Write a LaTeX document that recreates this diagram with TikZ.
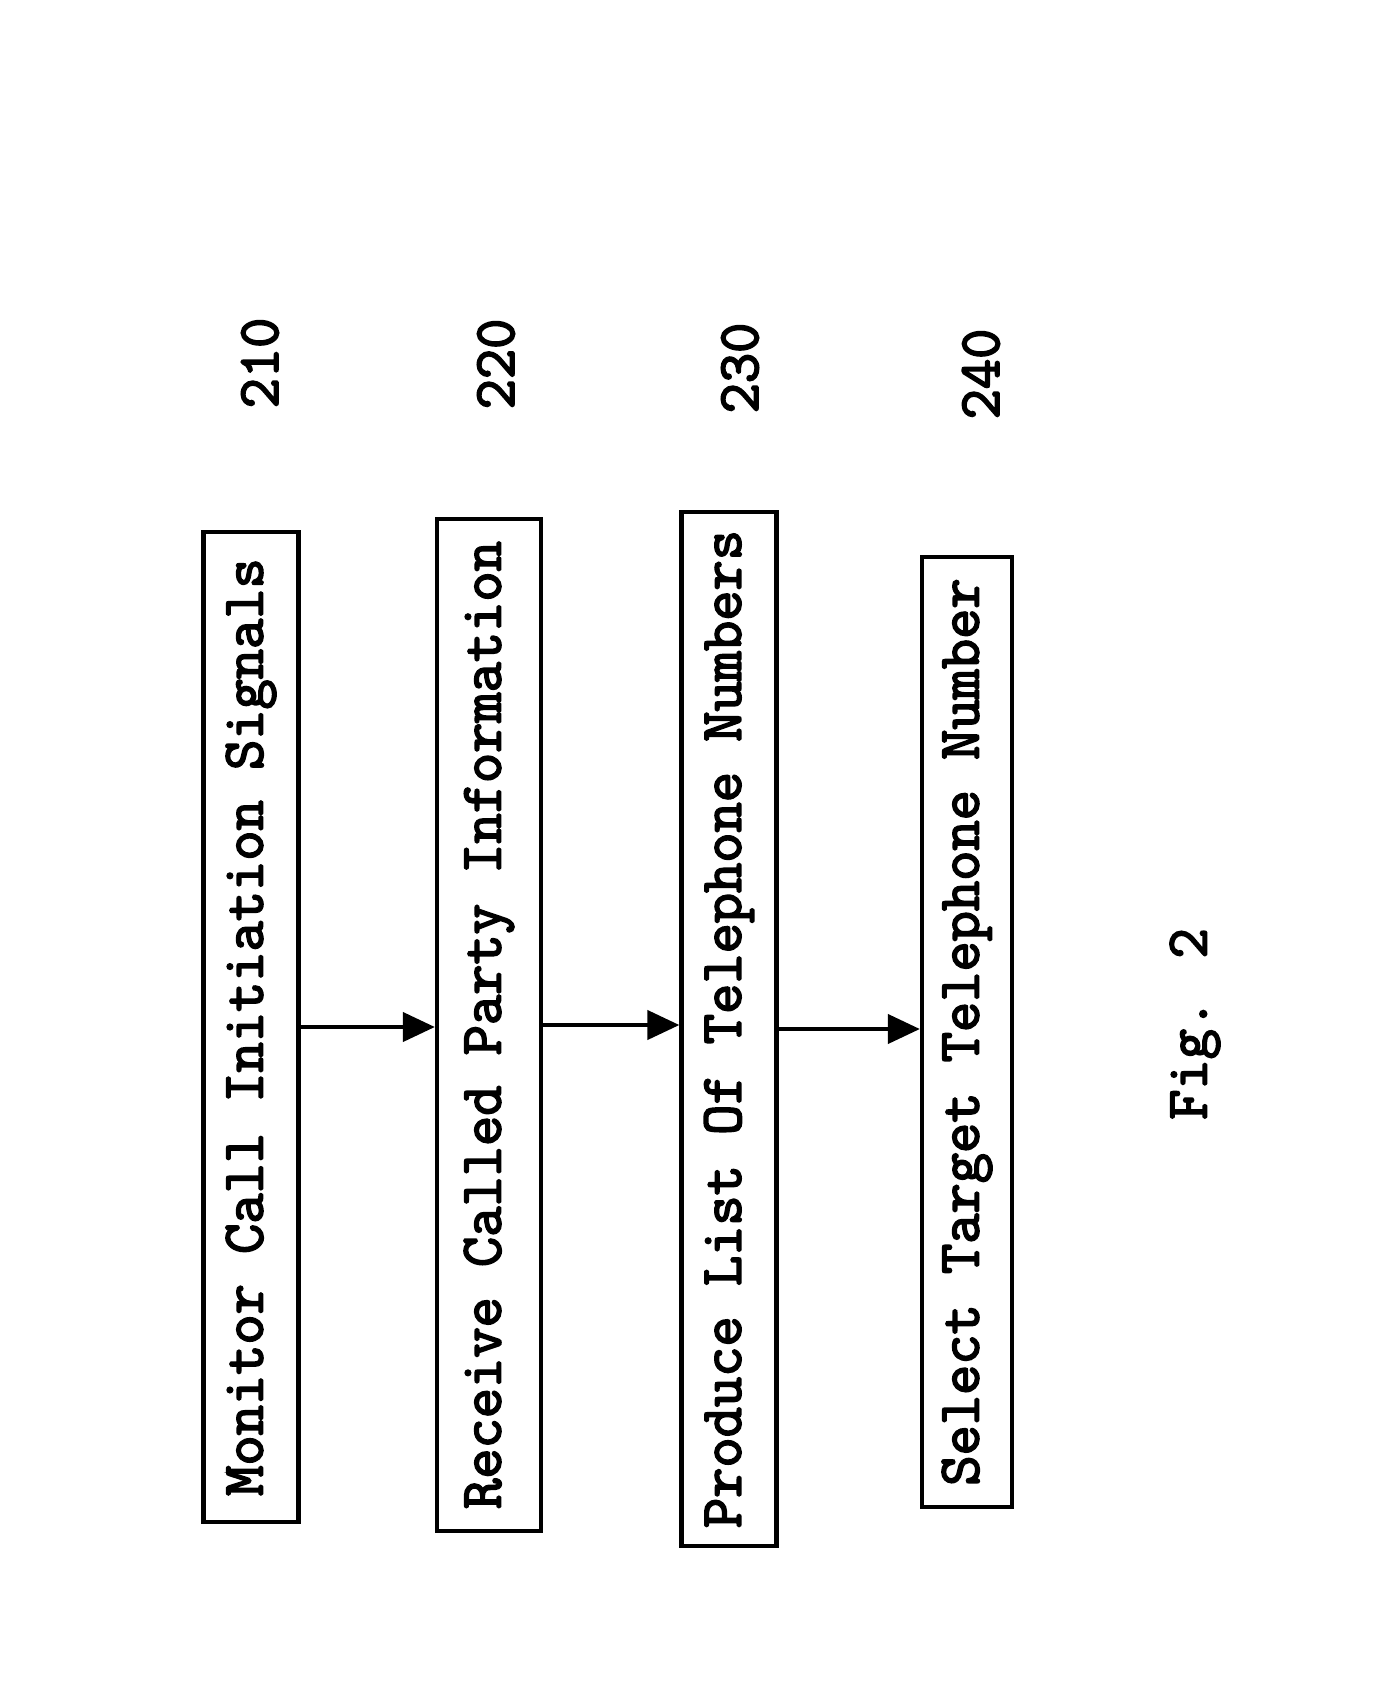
\documentclass[tikz,border=0pt]{standalone}
\usepackage{fontspec}
\newfontfamily\patentfont[FakeBold=3]{Latin Modern Mono}
\usetikzlibrary{arrows.meta}
\begin{document}
\begin{tikzpicture}[x=0.01cm, y=-0.01cm, >={Triangle[length=0.32cm, width=0.29cm]}, font=\patentfont\fontsize{16.7}{19}\selectfont]

\tikzstyle{stepbox} = [draw, line width=1.2pt, rotate=90, inner sep=0pt, minimum height=0.95cm]
\tikzstyle{reflabel} = [rotate=90, inner sep=0pt]
\tikzstyle{flow} = [->, line width=1.2pt]

\useasboundingbox (0,0) rectangle (1372,1681);

% --- steps
\node[stepbox, minimum width=9.89cm] (monitor) at (251,1027) {Monitor Call Initiation Signals};
\node[stepbox, minimum width=10.12cm, minimum height=1.04cm] (receive) at (489,1025) {Receive Called Party Information};
\node[stepbox, minimum width=10.34cm] (produce) at (729,1029) {Produce List Of Telephone Numbers};
\node[stepbox, minimum width=9.50cm, minimum height=0.90cm] (select) at (967,1032) {Select Target Telephone Number};

% --- reference numerals
\node[reflabel] (n210) at (260,363) {210};
\node[reflabel] (n220) at (496,364) {220};
\node[reflabel] (n230) at (740,368) {230};
\node[reflabel] (n240) at (981,374) {240};

\node[reflabel] (fig) at (1195,1024) {Fig. 2};

% --- flow
\draw[flow] (monitor.south) -- (monitor.south -| receive.north);
\draw[flow] (receive.south) -- (receive.south -| produce.north);
\draw[flow] (produce.south) -- (produce.south -| select.north);

\end{tikzpicture}
\end{document}
